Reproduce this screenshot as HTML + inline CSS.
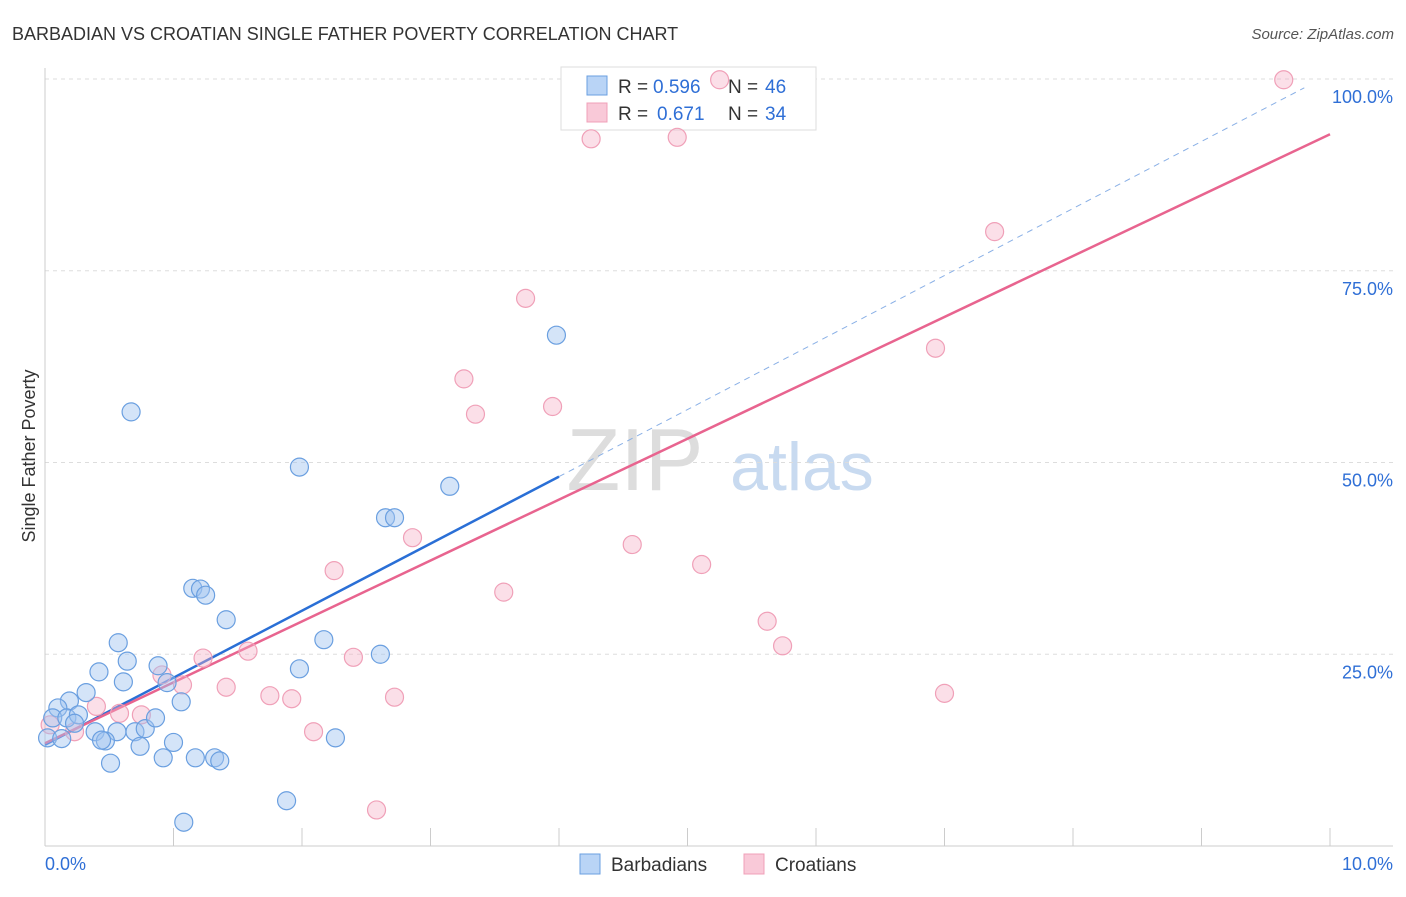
<!DOCTYPE html>
<html><head><meta charset="utf-8"><style>
body{margin:0;background:#fff;font-family:"Liberation Sans",sans-serif}
svg text{font-family:"Liberation Sans",sans-serif}
</style></head><body>
<svg id="chart" width="1406" height="892" xmlns="http://www.w3.org/2000/svg">
<text x="12" y="40" font-size="18" fill="#333">BARBADIAN VS CROATIAN SINGLE FATHER POVERTY CORRELATION CHART</text>
<text x="1394" y="39" font-size="15" fill="#555" font-style="italic" text-anchor="end">Source: ZipAtlas.com</text>
<text x="35" y="456" font-size="18" fill="#333" transform="rotate(-90 35 456)" text-anchor="middle">Single Father Poverty</text>
<g><text x="635" y="490" font-size="88" fill="#ddd" font-family="Liberation Serif" text-anchor="middle">ZIP</text><text x="802" y="490" font-size="68" fill="#c8daf0" text-anchor="middle">atlas</text></g>
<g id="grid"></g><g id="axes"></g>
<g>
<rect x="561" y="67" width="255" height="63" fill="#fff" stroke="#ddd"/>
<rect x="587" y="76" width="20" height="19" fill="#b9d4f6" stroke="#6a9fe0"/>
<text x="618" y="93" font-size="19" fill="#333">R =</text><text x="653" y="93" font-size="19" fill="#2f6fd6">0.596</text>
<text x="728" y="93" font-size="19" fill="#333">N =</text><text x="765" y="93" font-size="19" fill="#2f6fd6">46</text>
<rect x="587" y="103" width="20" height="19" fill="#f9c9d8" stroke="#f0a0b8"/>
<text x="618" y="120" font-size="19" fill="#333">R =</text><text x="657" y="120" font-size="19" fill="#2f6fd6">0.671</text>
<text x="728" y="120" font-size="19" fill="#333">N =</text><text x="765" y="120" font-size="19" fill="#2f6fd6">34</text>
</g>
<g id="lines"></g><g id="pts"></g>
<g>
<rect x="580" y="854" width="20" height="20" fill="#b9d4f6" stroke="#6a9fe0"/>
<text x="611" y="871" font-size="19" fill="#333">Barbadians</text>
<rect x="744" y="854" width="20" height="20" fill="#f9c9d8" stroke="#f0a0b8"/>
<text x="775" y="871" font-size="19" fill="#333">Croatians</text>
</g>
</svg>
<script>
const blueX=[0.67,1.98,3.98,3.15,2.65,2.72,1.15,1.21,1.25,1.41,0.57,0.64,2.17,2.61,1.98,0.88,0.42,0.61,0.95,0.32,0.19,1.06,0.10,0.06,0.17,0.26,0.23,0.39,0.56,0.47,0.70,0.78,0.44,0.74,1.00,0.86,0.51,0.92,1.17,1.32,1.36,2.26,1.88,1.08,0.02,0.13];
const blueY=[56.6,49.4,66.6,46.9,42.8,42.8,33.6,33.5,32.7,29.5,26.5,24.1,26.9,25.0,23.1,23.5,22.7,21.4,21.3,20.0,18.9,18.8,18.0,16.7,16.7,17.1,16.0,14.9,14.9,13.7,14.9,15.3,13.8,13.0,13.5,16.7,10.8,11.5,11.5,11.5,11.1,14.1,5.9,3.1,14.1,14.0];
const pinkX=[5.25,9.64,4.25,4.92,7.39,3.74,6.93,3.26,3.35,3.95,2.86,4.57,2.25,5.11,3.57,5.62,5.74,1.23,1.58,2.40,0.91,1.07,1.41,1.75,1.92,2.72,7.00,0.40,0.58,0.75,2.09,2.58,0.23,0.04];
const pinkY=[99.9,99.9,92.2,92.4,80.1,71.4,64.9,60.9,56.3,57.3,40.2,39.3,35.9,36.7,33.1,29.3,26.1,24.5,25.4,24.6,22.3,21.0,20.7,19.6,19.2,19.4,19.9,18.2,17.3,17.1,14.9,4.7,14.9,15.8];
const blueFit=[13.2,100.6], pinkFit=[13.4,92.8], blueSolidEnd=4.0;
const yTicks=[25,50,75,100], xTicks=[0,1,2,3,4,5,6,7,8,9,10];
const xs=v=>45+v*128.5, ys=v=>846-v*7.67;
const NS="http://www.w3.org/2000/svg";
function mk(tag,attrs,parent){const e=document.createElementNS(NS,tag);for(const k in attrs)e.setAttribute(k,attrs[k]);document.getElementById(parent).appendChild(e);return e;}
yTicks.forEach(t=>{
 const l=mk('line',{x1:45,x2:1393,y1:ys(t),y2:ys(t),stroke:'#ddd','stroke-dasharray':'4 4'},'grid');
 
 
 const tx=mk('text',{x:1393,y:ys(t)+24,'font-size':18,fill:'#2f6fd6','text-anchor':'end'},'grid');tx.textContent=t.toFixed(1)+'%';
 
 
});
mk('line',{x1:45,x2:45,y1:68,y2:846,stroke:'#ccc'},'axes');
mk('line',{x1:45,x2:1393,y1:846,y2:846,stroke:'#ccc'},'axes');
xTicks.forEach(t=>{const l=mk('line',{x1:xs(t),x2:xs(t),y1:828,y2:846,stroke:'#ccc'},'axes');
 
 });
[[0,'0.0%',45,'start'],[10,'10.0%',1393,'end']].forEach(a=>{const tx=mk('text',{x:a[2],y:870,'font-size':18,fill:'#2f6fd6','text-anchor':a[3]},'axes');tx.textContent=a[1];
 
 });
const bl=(x)=>blueFit[0]+(blueFit[1]-blueFit[0])*x/10;
let e=mk('line',{x1:xs(0),y1:ys(bl(0)),x2:xs(blueSolidEnd),y2:ys(bl(blueSolidEnd)),stroke:'#2a6fd6','stroke-width':2.5},'lines');


e=mk('line',{x1:xs(blueSolidEnd),y1:ys(bl(blueSolidEnd)),x2:xs(9.8),y2:ys(bl(9.8)),stroke:'#8ab0e6','stroke-width':1,'stroke-dasharray':'6 5'},'lines');


e=mk('line',{x1:xs(0),y1:ys(pinkFit[0]),x2:xs(10),y2:ys(pinkFit[1]),stroke:'#e8648f','stroke-width':2.5},'lines');


pinkX.forEach((x,i)=>{const c=mk('circle',{cx:xs(x),cy:ys(pinkY[i]),r:9,fill:'rgba(246,175,198,0.4)',stroke:'#f0a0b8','stroke-width':1.2},'pts');
 
 });
blueX.forEach((x,i)=>{const c=mk('circle',{cx:xs(x),cy:ys(blueY[i]),r:9,fill:'rgba(160,196,240,0.45)',stroke:'#6a9fe0','stroke-width':1.2},'pts');
 
 });
</script>
</body></html>
